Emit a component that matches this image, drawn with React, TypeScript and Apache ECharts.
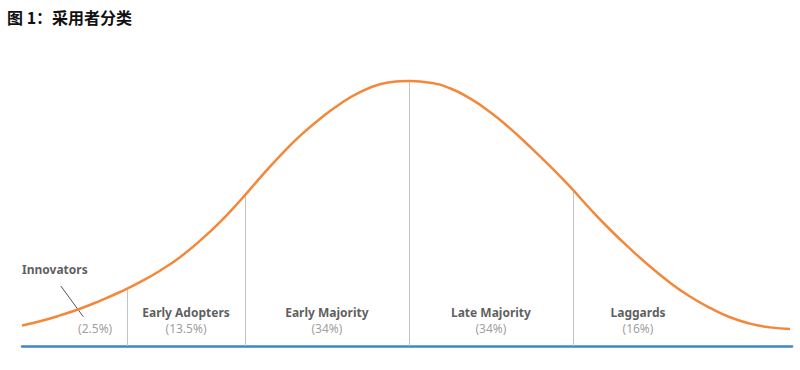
import React, { useEffect, useRef } from "react";
import * as echarts from "echarts";

const titleText = "图 1：采用者分类";

// Curve points: [position, height]
const curveX = [0, 2.34, 4.94, 7.53, 10.13, 12.73, 15.32, 17.92, 20.52, 23.12, 25.71, 28.31, 30.91, 33.51, 36.1, 38.7, 41.3, 43.9, 46.49, 49.09, 50.39, 52.99, 55.58, 58.18, 60.78, 63.38, 65.97, 68.57, 71.17, 73.77, 76.36, 78.96, 81.56, 84.16, 86.75, 89.35, 91.95, 94.55, 97.14, 99.74];
const curveY = [7.71, 9.3, 11.5, 14.0, 17.0, 20.3, 24.0, 28.3, 33.4, 39.6, 46.6, 54.6, 63.2, 71.5, 79.0, 85.4, 91.0, 95.4, 98.4, 99.5, 99.62, 99.0, 96.9, 93.1, 88.0, 81.8, 74.9, 67.6, 59.9, 51.6, 43.8, 36.6, 29.9, 23.8, 18.6, 14.3, 10.8, 8.4, 7.0, 6.39];

// Segment boundaries (position, curve height at boundary)
const boundaryX = [13.7, 28.96, 50.26, 71.56];
const boundaryY = [21.7, 57.4, 99.6, 58.6];

// Segment labels
const segmentNames = ["Innovators", "Early Adopters", "Early Majority", "Late Majority", "Laggards"];
const segmentShares = ["(2.5%)", "(13.5%)", "(34%)", "(34%)", "(16%)"];
const labelX = [9.5, 21.3, 39.6, 60.9, 80.0];
const labelY = [9.77, 9.77, 9.77, 9.77, 9.77];

// Innovators name label and leader line
const innovatorsNameX = 0;
const innovatorsNameY = 28.6;
const leaderFrom = [5.03, 22.6];
const leaderTo = [7.96, 11.0];

export default function App() {
  const ref = useRef<HTMLDivElement>(null);
  useEffect(() => {
    document.body.style.margin = "0";
    if (!ref.current) return;
    const chart = echarts.init(ref.current, null, { renderer: "svg" });
    const font = "'Noto Sans', 'DejaVu Sans', sans-serif";
    const rich = {
      n: { fontFamily: font, fontSize: 12, fontWeight: "bold", color: "#333", lineHeight: 16 },
      p: { fontFamily: font, fontSize: 12, color: "#858585", lineHeight: 16 },
    };
    const segData = segmentNames.map((n, i) => ({
      value: [labelX[i], labelY[i]],
      name: i === 0 ? "" : n,
      share: segmentShares[i],
    }));
    chart.setOption({
      animation: false,
      title: {
        text: titleText,
        left: 2,
        top: 4,
        textStyle: {
          fontFamily: "'Noto Sans CJK SC', sans-serif",
          fontSize: 16,
          fontWeight: "bold",
          color: "#111",
        },
      },
      grid: { left: 22, right: 8, top: 80, bottom: 24 },
      xAxis: {
        type: "value",
        min: 0,
        max: 100,
        axisLine: { show: true, lineStyle: { color: "#3b87c9", width: 2.5 } },
        axisTick: { show: false },
        axisLabel: { show: false },
        splitLine: { show: false },
      },
      yAxis: {
        type: "value",
        min: 0,
        max: 100,
        show: false,
        splitLine: { show: false },
      },
      series: [
        {
          type: "line",
          smooth: true,
          symbol: "none",
          data: curveX.map((x, i) => [x, curveY[i]]),
          lineStyle: { color: "#f4883a", width: 2.5 },
          z: 5,
          markLine: {
            silent: true,
            symbol: "none",
            label: { show: false },
            data: [
              ...boundaryX.map((x, i) => [
                { coord: [x, 0], lineStyle: { color: "#c4c4c4", width: 1, type: "solid" } },
                { coord: [x, boundaryY[i]] },
              ]),
              [
                { coord: leaderFrom, lineStyle: { color: "#555", width: 1, type: "solid" } },
                { coord: leaderTo },
              ],
            ],
          },
        },
        {
          type: "scatter",
          symbolSize: 0,
          silent: true,
          data: segData,
          label: {
            show: true,
            position: "inside",
            align: "center",
            verticalAlign: "middle",
            formatter: (p: any) =>
              p.data.name ? `{n|${p.data.name}}\n{p|${p.data.share}}` : `{n| }\n{p|${p.data.share}}`,
            rich,
          },
        },
        {
          type: "scatter",
          symbolSize: 0,
          silent: true,
          data: [{ value: [innovatorsNameX, innovatorsNameY], name: segmentNames[0] }],
          label: {
            show: true,
            position: "inside",
            align: "left",
            verticalAlign: "middle",
            formatter: (p: any) => p.data.name,
            fontFamily: font,
            fontSize: 12,
            fontWeight: "bold",
            color: "#333",
          },
        },
      ],
    });
    return () => chart.dispose();
  }, []);
  return <div ref={ref} style={{ width: 800, height: 370 }} />;
}
